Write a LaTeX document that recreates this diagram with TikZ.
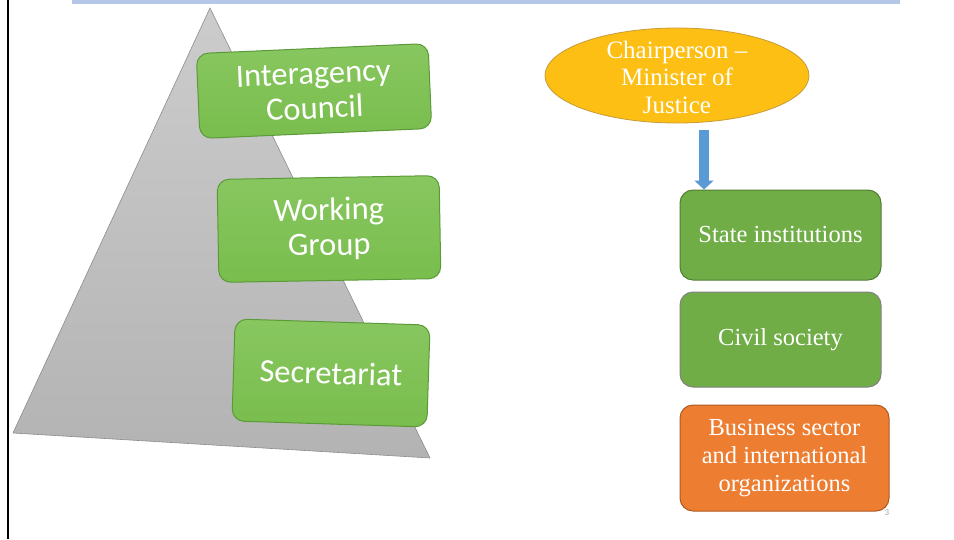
\documentclass[tikz,border=0pt]{standalone}
\usepackage{fontspec}
\setmainfont{Liberation Serif}
\newfontfamily\calib{Carlito}
\usetikzlibrary{shapes.geometric,arrows.meta}

\definecolor{barblue}{HTML}{B4C7E7}
\definecolor{pyrtop}{HTML}{CCCCCC}
\definecolor{pyrbot}{HTML}{B3B3B3}
\definecolor{pyrline}{HTML}{8C8C8C}
\definecolor{lgtop}{HTML}{88C760}
\definecolor{lgbot}{HTML}{79BD4D}
\definecolor{lgline}{HTML}{5B9A38}
\definecolor{chairfill}{HTML}{FDBF13}
\definecolor{chairline}{HTML}{C89B3A}
\definecolor{stgreen}{HTML}{70AD47}
\definecolor{stline}{HTML}{507E32}
\definecolor{bizfill}{HTML}{ED7D31}
\definecolor{bizline}{HTML}{AE5A21}
\definecolor{arrblue}{HTML}{5B9BD5}

\tikzset{
    levelbox/.style={rectangle,rounded corners=12pt,draw=lgline,line width=1pt,
        top color=lgtop,bottom color=lgbot,text=white,align=center,
        font=\calib\fontsize{32.5}{35}\selectfont},
    sidebox/.style={rectangle,rounded corners=13pt,line width=1pt,text=white,
        align=center,minimum width=201pt,font=\fontsize{24.5}{28}\selectfont}
}

\begin{document}
\begin{tikzpicture}[x=1pt,y=-1pt]
            \useasboundingbox (0,0) rectangle (954,539);

            % slide frame
            \fill [barblue] (72,0) rectangle (900,4);
            \draw [line width=2.5pt] (8,0) -- (8,539);

            % pyramid
            \shade [top color=pyrtop,bottom color=pyrbot,draw=pyrline,line width=0.6pt]
                (210,8) -- (430,458) -- (13,433) -- cycle;

            \node [levelbox,minimum width=232pt,minimum height=85pt,rotate=2.5]
                (council) at (314,91) {Interagency\\Council};
            \node [levelbox,minimum width=222pt,minimum height=103pt,rotate=1]
                (working) at (329,229) {Working\\Group};
            \node [levelbox,minimum width=195pt,minimum height=102pt,rotate=-1.8]
                (secretariat) at (331,373) {Secretariat};

            % right column
            \node [ellipse,fill=chairfill,draw=chairline,line width=0.8pt,
                   minimum width=264pt,minimum height=95pt] (chair) at (677,75.5) {};
            \node [text=white,align=center,inner sep=0pt,
                   font=\fontsize{25}{27.5}\selectfont] (chairtext) at (677,77)
                  {Chairperson --\\Minister of\\Justice};

            \node [sidebox,fill=stgreen,draw=stline,minimum height=90pt]
                (state) at (780.5,235) {State institutions};
            \node [sidebox,fill=stgreen,draw=gray,minimum height=95pt]
                (civil) at (780.5,339.5) {Civil society};
            \node [sidebox,fill=bizfill,draw=bizline,minimum width=209pt,minimum height=106pt]
                (business) at (784.5,458) {Business sector\\and international\\organizations};

            \draw [arrblue,line width=10pt,-{Triangle[width=19pt,length=9pt]}]
                (chair.south -| 704,0) ++(0,6.5) -- (state.north -| 704,0);

            \node [text=gray!70,font=\calib\fontsize{9}{9}\selectfont] (pagenum) at (887,513) {3};
\end{tikzpicture}
\end{document}
